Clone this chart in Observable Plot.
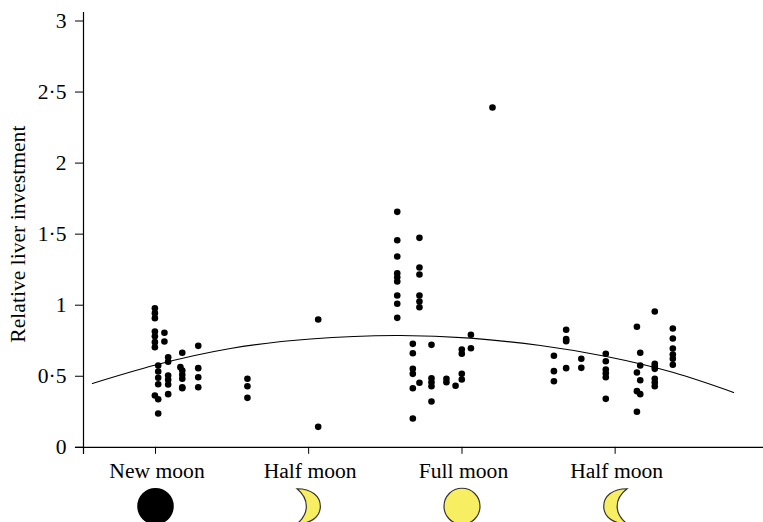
<!DOCTYPE html>
<html>
<head>
<meta charset="utf-8">
<script src="https://cdn.jsdelivr.net/npm/d3@7"></script>
<script src="https://cdn.jsdelivr.net/npm/@observablehq/plot@0.6"></script>
<style>html,body{margin:0;padding:0;background:#fff;overflow:hidden}svg{display:block}</style>
</head>
<body>
<div id="chart"></div>
<script>
// x = day of the lunar cycle (0 = new moon), values = relative liver investment
const columns = [
  [-0.03, [0.979, 0.944, 0.909, 0.815, 0.782, 0.740, 0.704, 0.365]],
  [0.13, [0.576, 0.533, 0.489, 0.444, 0.338, 0.238]],
  [0.43, [0.806, 0.745]],
  [0.61, [0.634, 0.602, 0.505, 0.475, 0.442, 0.374]],
  [1.2, [0.564]],
  [1.29, [0.665, 0.540, 0.510, 0.482, 0.423, 0.416]],
  [2.06, [0.714, 0.557, 0.493, 0.423]],
  [4.43, [0.482, 0.430, 0.348]],
  [7.84, [0.899, 0.144]],
  [11.65, [1.657, 1.457, 1.343, 1.225, 1.197, 1.167, 1.068, 1.010, 0.911]],
  [12.4, [0.728, 0.662, 0.552, 0.517, 0.416, 0.203]],
  [12.72, [1.474, 1.265, 1.216, 1.068, 1.026, 0.986, 0.454]],
  [13.3, [0.721, 0.486, 0.458, 0.430, 0.322]],
  [14.02, [0.482, 0.458]],
  [14.46, [0.433]],
  [14.76, [0.688, 0.658, 0.517, 0.477]],
  [15.2, [0.792, 0.697]],
  [16.24, [2.391]],
  [19.2, [0.644, 0.536, 0.465]],
  [19.79, [0.827, 0.761, 0.747, 0.557]],
  [20.52, [0.623, 0.559]],
  [21.7, [0.658, 0.606, 0.547, 0.521, 0.493, 0.341]],
  [23.2, [0.848, 0.526, 0.395, 0.250]],
  [23.36, [0.665, 0.576, 0.472, 0.374]],
  [24.06, [0.956, 0.588, 0.571, 0.552, 0.482, 0.456, 0.430]],
  [24.93, [0.836, 0.766, 0.695, 0.653, 0.623, 0.581]]
];
const curveDays = [-3.04, 0, 3.61, 7.47, 11.57, 15.18, 18.55, 21.73, 24.96, 27.86];
const curveValues = [0.449, 0.579, 0.695, 0.762, 0.787, 0.768, 0.716, 0.639, 0.526, 0.386];
const phaseDays = [0, 7.38, 14.77, 22.15];
const phaseNames = ["New moon", "Half moon", "Full moon", "Half moon"];
const yTicks = [0, 0.5, 1, 1.5, 2, 2.5, 3];

const points = columns.flatMap(([day, vals]) => vals.map(value => ({day, value})));
const curve = curveDays.map((day, i) => ({day, value: curveValues[i]}));

const crescentRight = {draw(c) {
  c.moveTo(-11.6, -17.5);
  c.bezierCurveTo(3, -17.5, 11.7, -10, 11.7, 0);
  c.bezierCurveTo(11.7, 10, 3, 17.5, -11.6, 17.5);
  c.bezierCurveTo(-5, 12, -2.3, 6, -2.3, 0);
  c.bezierCurveTo(-2.3, -6, -5, -12, -11.6, -17.5);
  c.closePath();
}};
const crescentLeft = {draw(c) {
  c.moveTo(12, -17.5);
  c.bezierCurveTo(-3, -17.5, -11.4, -10, -11.4, 0);
  c.bezierCurveTo(-11.4, 10, -3, 17.5, 12, 17.5);
  c.bezierCurveTo(6, 13, 2, 7, 2, 0);
  c.bezierCurveTo(2, -7, 6, -13, 12, -17.5);
  c.closePath();
}};
const moonY = -0.415;
const moonYellow = "#f7ee62", moonEdge = "#333";
const xLeft = -3.47, xRight = 29.3;

const fig = Plot.plot({
  width: 763, height: 522,
  marginLeft: 83, marginRight: 0, marginTop: 20.5, marginBottom: 75.2,
  style: {fontFamily: "'Liberation Serif', serif", color: "#000", background: "#fff"},
  x: {domain: [xLeft, xRight]},
  y: {domain: [0, 3]},
  marks: [
    Plot.ruleX([xLeft], {y1: -0.05, y2: 3.06, stroke: "#000", strokeWidth: 1.2}),
    Plot.ruleY([0], {x1: -3.86, x2: xRight, stroke: "#000", strokeWidth: 1.2}),
    Plot.axisY({
      ticks: yTicks, tickSize: 8, tickPadding: 9, fontSize: 21.6,
      tickFormat: d => String(d).replace(".", "·"),
      label: "Relative liver investment", labelAnchor: "center", labelArrow: "none", labelOffset: 74
    }),
    Plot.axisX({ticks: phaseDays, tickSize: 7, tickFormat: () => "", label: null}),
    Plot.axisX({
      ticks: phaseDays, tickSize: 0, tickPadding: 15, fontSize: 21.6, dx: 1.5,
      tickFormat: d => phaseNames[phaseDays.indexOf(d)], label: null
    }),
    Plot.line(curve, {x: "day", y: "value", stroke: "#000", strokeWidth: 1.1, curve: "natural"}),
    Plot.dot(points, {x: "day", y: "value", r: 3.3, fill: "#000"}),
    Plot.dot([phaseDays[0]], {x: d => d, y: () => moonY, r: 17.5, fill: "#000", stroke: "#000"}),
    Plot.dot([phaseDays[2]], {x: d => d, y: () => moonY, r: 18, fill: moonYellow, stroke: moonEdge, strokeWidth: 1.2}),
    Plot.dot([phaseDays[1]], {x: d => d, y: () => moonY, symbol: crescentRight, fill: moonYellow, stroke: moonEdge, strokeWidth: 1.2}),
    Plot.dot([phaseDays[3]], {x: d => d, y: () => moonY, symbol: crescentLeft, fill: moonYellow, stroke: moonEdge, strokeWidth: 1.2})
  ]
});
document.getElementById("chart").append(fig);
</script>
</body>
</html>
